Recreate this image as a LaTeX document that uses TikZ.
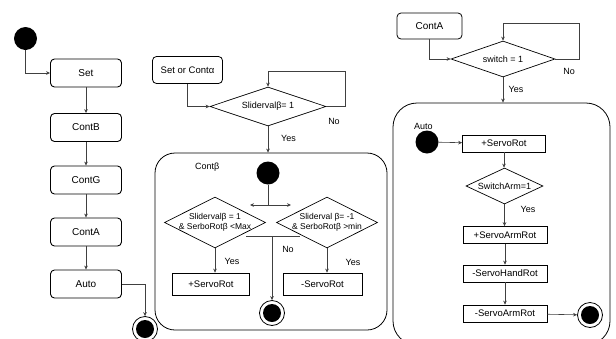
\documentclass[tikz,border=0pt]{standalone}
\usepackage{fontspec}
\setmainfont{Liberation Sans}
\usetikzlibrary{shapes.geometric,arrows.meta,calc}
\begin{document}
\begin{tikzpicture}[x=1pt,y=-1pt,
  every node/.style={inner sep=0pt, font=\fontsize{9.5}{11}\selectfont},
  arr/.style={-{Stealth[length=4pt,width=3.6pt]}, draw=black!75, line width=0.6pt},
  ln/.style={draw=black!75, line width=0.6pt},
  lbox/.style={draw=black, line width=0.9pt, rounded corners=4pt, minimum width=71pt, minimum height=28pt, font=\fontsize{10}{12}\selectfont},
  sbox/.style={draw=black, line width=0.8pt, rounded corners=4pt, minimum height=27pt},
  rbox/.style={draw=black, line width=0.7pt, minimum height=17pt},
  dia/.style={diamond, draw=black, line width=0.7pt},
  dtxt/.style={align=center},
  ctxt/.style={align=center, font=\fontsize{8.5}{10.5}\selectfont},
  cont/.style={draw=black, line width=0.8pt},
  initst/.style={circle, fill=black, minimum size=23pt},
  finalst/.style={circle, draw=black, line width=0.8pt, fill=white, minimum size=25pt,
    path picture={\fill[black] (path picture bounding box.center) circle[radius=9pt];}},
  lbl/.style={font=\fontsize{9}{10}\selectfont}
]
\useasboundingbox (0,0) rectangle (616,338);

% ---------- left column ----------
\node[initst] (s0) at (25.5,38.5) {};
\node[lbox] (set) at (86,73) {Set};
\node[lbox] (contB) at (86,127.5) {ContB};
\node[lbox] (contG) at (86,180) {ContG};
\node[lbox] (contA) at (86,232) {ContA};
\node[lbox] (auto) at (86,284) {Auto};
\node[finalst] (e1) at (145,329) {};
\draw[arr] (s0) |- (set);
\draw[arr] (set) -- (contB);
\draw[arr] (contB) -- (contG);
\draw[arr] (contG) -- (contA);
\draw[arr] (contA) -- (auto);
\draw[arr] (auto) -| (e1);

% ---------- middle ----------
\node[sbox, minimum width=70pt] (sc) at (187.5,70) {Set or Contα};
\node[dia, minimum width=116pt, minimum height=39pt] (d1) at (268,106.5) {};
\node[dtxt, font=\fontsize{9}{11}\selectfont] (d1t) at (d1) {Slidervalβ= 1};
\coordinate (l1) at (345,71);
\draw[arr] (sc) |- (d1);
\draw[arr] (d1.east) -| (l1) -| (d1.north);
\node[lbl] (no1) at (334,121) {No};
\node[cont, rounded corners=20pt, minimum width=232pt, minimum height=177pt] (cb) at (271,241.5) {};
\draw[arr] (d1.south) -- (d1.south |- cb.north);
\node[lbl, anchor=west] (yes1) at (281,138) {Yes};
\node[lbl, anchor=west] (cbl) at (195,167) {Contβ};
\node[initst] (i1) at (268,173) {};
\coordinate (j) at (268,205);
\coordinate (jl) at (250,205);
\coordinate (jr) at (291,205);
\draw[ln] (i1) -- (j);
\draw[arr] (j) -- (jl);
\draw[arr] (j) -- (jr);
\node[dia, minimum width=101pt, minimum height=51pt] (d2) at (215,222.5) {};
\node[ctxt] (d2t) at (d2) {Slidervalβ = 1\\\& SerboRotβ <Max};
\node[dia, minimum width=101pt, minimum height=51pt] (d3) at (327,222.5) {};
\node[ctxt] (d3t) at (d3) {Sliderval β= -1\\\& SerboRotβ >min};
\coordinate (nb1) at (246,236);
\coordinate (nb2) at (300,236);
\coordinate (nbm) at (272,236);
\draw[ln] (nb1) -- (nb2);
\node[finalst] (e2) at (272,313) {};
\draw[arr] (nbm) -- (e2);
\node[lbl] (no2) at (288,249) {No};
\node[rbox, minimum width=77pt, minimum height=22pt] (b1) at (211,284) {+ServoRot};
\node[rbox, minimum width=79pt, minimum height=22pt] (b2) at (322.5,284) {-ServoRot};
\draw[arr] (d2.south) -- (d2.south |- b1.north);
\draw[arr] (d3.south) -- (d3.south |- b2.north);
\node[lbl] (yes2) at (232,261) {Yes};
\node[lbl] (yes3) at (353,262) {Yes};

% ---------- right ----------
\node[sbox, minimum width=65pt, minimum height=26pt, font=\fontsize{10}{12}\selectfont] (ca) at (429.5,26) {ContA};
\node[dia, minimum width=104pt, minimum height=36pt] (d4) at (503,59) {};
\node[dtxt, font=\fontsize{9}{11}\selectfont] (d4t) at (d4) {switch = 1};
\coordinate (l2) at (579,23);
\draw[arr] (ca) |- (d4);
\draw[arr] (d4.east) -| (l2) -| (d4.north);
\node[lbl] (no3) at (569,71) {No};
\node[cont, rounded corners=24pt, minimum width=217pt, minimum height=242pt] (ac) at (501.5,224) {};
\draw[arr] (d4.south) -- (d4.south |- ac.north);
\node[lbl] (yes4) at (516,89) {Yes};
\node[lbl, anchor=west] (acl) at (414,126) {Auto};
\node[initst] (i2) at (427,142) {};
\node[rbox, minimum width=83pt] (r1) at (504,143.5) {+ServoRot};
\draw[arr] (i2) -- (r1);
\node[dia, minimum width=77pt, minimum height=36pt] (d5) at (504.5,186) {};
\node[dtxt, font=\fontsize{9}{11}\selectfont] (d5t) at (d5) {SwitchArm=1};
\draw[arr] (r1) -- (r1 |- d5.north);
\node[lbl] (yes5) at (528,209) {Yes};
\node[rbox, minimum width=84pt] (r2) at (505,235) {+ServoArmRot};
\node[rbox, minimum width=84pt] (r3) at (505,273.5) {-ServoHandRot};
\node[rbox, minimum width=84pt] (r4) at (505,313.5) {-ServoArmRot};
\draw[arr] (d5.south) -- (d5.south |- r2.north);
\draw[arr] (r2) -- (r3);
\draw[arr] (r3) -- (r4);
\node[finalst] (e3) at (590,315) {};
\draw[arr] (r4) -- (e3);
\end{tikzpicture}
\end{document}
